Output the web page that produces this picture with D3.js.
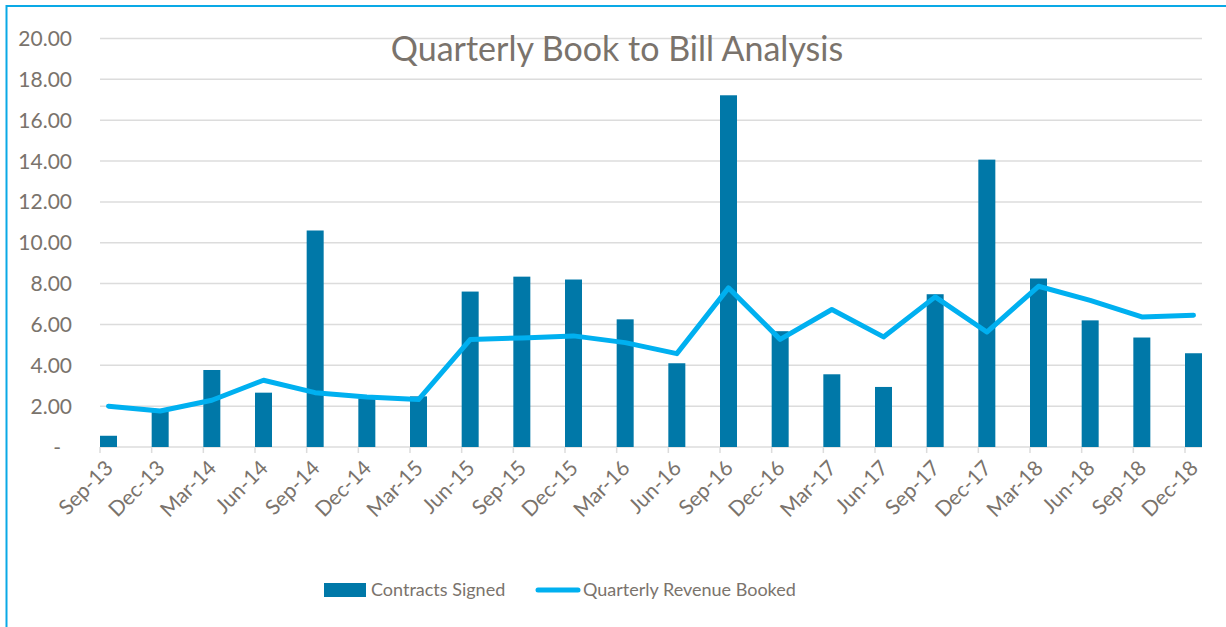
<!DOCTYPE html>
<html>
<head>
<meta charset="utf-8">
<script src="https://cdn.jsdelivr.net/npm/d3@7"></script>
<style>
  body { margin: 0; background: #fff; }
  svg { display: block; font-family: Lato, "Open Sans", sans-serif; }
</style>
</head>
<body>
<div id="chart"></div>
<script>
// quarter labels
var quarters = ["Sep-13", "Dec-13", "Mar-14", "Jun-14", "Sep-14", "Dec-14", "Mar-15", "Jun-15",
                "Sep-15", "Dec-15", "Mar-16", "Jun-16", "Sep-16", "Dec-16", "Mar-17", "Jun-17",
                "Sep-17", "Dec-17", "Mar-18", "Jun-18", "Sep-18", "Dec-18"];

// bars
var contractsSigned = [0.55, 1.75, 3.77, 2.66, 10.60, 2.38, 2.48, 7.61, 8.34, 8.20, 6.25, 4.10,
                       17.22, 5.67, 3.56, 2.94, 7.48, 14.07, 8.25, 6.20, 5.36, 4.59];

// line
var revenueBooked = [2.00, 1.76, 2.29, 3.27, 2.66, 2.45, 2.32, 5.26, 5.34, 5.44, 5.11, 4.57,
                     7.79, 5.27, 6.73, 5.39, 7.35, 5.63, 7.87, 7.18, 6.37, 6.45];

var yTicks = [0, 2, 4, 6, 8, 10, 12, 14, 16, 18, 20];

function init() {
    const width = 1226, height = 627;
    const barColor = "#0078a8", lineColor = "#00b0f0", textColor = "#7a736c", gridColor = "#dcdcdc";
    const bw = 17;

    var svg = d3.select("#chart")
                .append("svg")
                .attr("width", width)
                .attr("height", height);

    // outer frame (only left and top visible in the picture)
    svg.append("rect")
        .attr("x", 6.5).attr("y", 6)
        .attr("width", width + 20).attr("height", height + 20)
        .attr("fill", "none")
        .attr("stroke", "#0aa9e6")
        .attr("stroke-width", 2);

    const x = d3.scalePoint()
                .domain(quarters)
                .range([100, 1185]);

    const y = d3.scaleLinear()
                .domain([0, 20])
                .range([447, 38.5]);

    // gridlines
    svg.append("g")
        .selectAll("line")
        .data(yTicks)
        .join("line")
        .attr("x1", 100).attr("x2", 1202)
        .attr("y1", d => y(d)).attr("y2", d => y(d))
        .attr("stroke", gridColor)
        .attr("stroke-width", 1.5);

    // y labels
    svg.append("g")
        .selectAll("text")
        .data(yTicks)
        .join("text")
        .attr("x", d => d === 0 ? 61 : 72)
        .attr("y", d => y(d))
        .attr("dy", "0.36em")
        .attr("text-anchor", "end")
        .attr("fill", textColor)
        .style("font-size", "21px")
        .text(d => d === 0 ? "-" : d3.format(".2f")(d));

    // x ticks
    svg.append("g")
        .selectAll("line")
        .data(quarters)
        .join("line")
        .attr("x1", d => x(d)).attr("x2", d => x(d))
        .attr("y1", y(0)).attr("y2", y(0) + 6)
        .attr("stroke", gridColor)
        .attr("stroke-width", 1.5);

    svg.append("g")
        .selectAll("text")
        .data(quarters)
        .join("text")
        .attr("transform", d => `translate(${x(d) + 9},${y(0) + 17}) rotate(-45)`)
        .attr("dy", "0.36em")
        .attr("text-anchor", "end")
        .attr("fill", textColor)
        .style("font-size", "21px")
        .text(d => d);

    // bars
    svg.append("g")
        .selectAll("rect")
        .data(contractsSigned)
        .join("rect")
        .attr("x", (d, i) => x(quarters[i]))
        .attr("y", d => y(d))
        .attr("width", bw)
        .attr("height", d => y(0) - y(d))
        .attr("fill", barColor);

    // line
    const line = d3.line()
                   .x((d, i) => x(quarters[i]) + bw / 2)
                   .y(d => y(d));

    svg.append("path")
        .datum(revenueBooked)
        .attr("d", line)
        .attr("fill", "none")
        .attr("stroke", lineColor)
        .attr("stroke-width", 5)
        .attr("stroke-linecap", "round")
        .attr("stroke-linejoin", "round");

    // title
    svg.append("text")
        .attr("x", 617)
        .attr("y", 61)
        .attr("text-anchor", "middle")
        .attr("fill", textColor)
        .style("font-size", "34px")
        .text("Quarterly Book to Bill Analysis");

    // legend
    const legend = svg.append("g");
    legend.append("rect")
        .attr("x", 324).attr("y", 583)
        .attr("width", 42).attr("height", 14)
        .attr("fill", barColor);
    legend.append("text")
        .attr("x", 371).attr("y", 590)
        .attr("dy", "0.36em")
        .attr("fill", textColor)
        .style("font-size", "18px")
        .text("Contracts Signed");
    legend.append("line")
        .attr("x1", 538).attr("x2", 578)
        .attr("y1", 590).attr("y2", 590)
        .attr("stroke", lineColor)
        .attr("stroke-width", 5)
        .attr("stroke-linecap", "round");
    legend.append("text")
        .attr("x", 583).attr("y", 590)
        .attr("dy", "0.36em")
        .attr("fill", textColor)
        .style("font-size", "18px")
        .text("Quarterly Revenue Booked");
}

window.onload = init;
</script>
</body>
</html>
